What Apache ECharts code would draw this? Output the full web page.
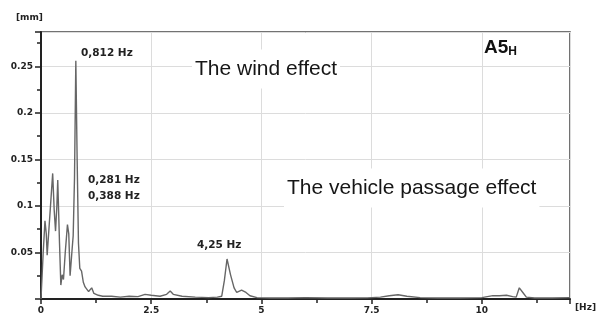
<!DOCTYPE html>
<html>
<head>
<meta charset="utf-8">
<script src="https://cdn.jsdelivr.net/npm/echarts@6/dist/echarts.min.js"></script>
<style>
html,body{margin:0;padding:0;background:#fff;}
#chart{width:599px;height:315px;}
</style>
</head>
<body>
<div id="chart"></div>
<script>
// Frequency (Hz)
var freqHz = [0, 0.05, 0.09, 0.12, 0.14, 0.18, 0.265, 0.30, 0.33, 0.36, 0.38, 0.42, 0.45, 0.48, 0.51, 0.55, 0.60, 0.63, 0.66, 0.70, 0.73, 0.76, 0.79, 0.82, 0.85, 0.88, 0.92, 0.96, 1.0, 1.08, 1.15, 1.2, 1.3, 1.4, 1.6, 1.8, 2.0, 2.2, 2.36, 2.5, 2.7, 2.85, 2.93, 3.0, 3.2, 3.5, 3.8, 4.0, 4.1, 4.16, 4.22, 4.3, 4.38, 4.44, 4.55, 4.65, 4.74, 4.9, 5.2, 5.6, 6.0, 6.5, 7.0, 7.4, 7.7, 7.9, 8.1, 8.3, 8.6, 9.0, 9.5, 10.0, 10.25, 10.4, 10.56, 10.7, 10.78, 10.85, 10.93, 11.01, 11.2, 11.6, 12];
// Amplitude (mm)
var amplitudeMm = [0, 0.05, 0.084, 0.07, 0.047, 0.048, 0.135, 0.095, 0.073, 0.1, 0.128, 0.06, 0.015, 0.026, 0.021, 0.05, 0.08, 0.07, 0.025, 0.05, 0.068, 0.13, 0.256, 0.15, 0.06, 0.033, 0.03, 0.018, 0.013, 0.008, 0.012, 0.006, 0.004, 0.003, 0.003, 0.002, 0.003, 0.0025, 0.005, 0.004, 0.003, 0.005, 0.0085, 0.005, 0.003, 0.002, 0.0015, 0.002, 0.003, 0.02, 0.043, 0.026, 0.012, 0.007, 0.0095, 0.007, 0.0035, 0.0015, 0.001, 0.001, 0.0015, 0.001, 0.001, 0.0012, 0.002, 0.0035, 0.0045, 0.003, 0.0015, 0.001, 0.001, 0.0015, 0.0036, 0.0035, 0.004, 0.0025, 0.002, 0.012, 0.007, 0.002, 0.001, 0.001, 0.0015];

var xAxisMax = 12, xInterval = 2.5;
var yAxisMax = 0.287, yInterval = 0.05;
var peakLabels = ['0,812 Hz', '0,281 Hz', '0,388 Hz', '4,25 Hz'];
var noteLabels = ['The wind effect', 'The vehicle passage effect'];
var unitX = '[Hz]', unitY = '[mm]';

var seriesData = freqHz.map(function (f, i) { return [f, amplitudeMm[i]]; });

var chart = echarts.init(document.getElementById('chart'), null, {renderer: 'canvas'});
var boldFont = 'DejaVu Sans';
var tickLabelStyle = {fontFamily: boldFont, fontWeight: 'bold', fontSize: 9, color: '#222'};

function xAxisDef(inside, labels) {
  return {
    type: 'value', min: 0, max: xAxisMax, interval: xInterval,
    axisLine: {show: labels, lineStyle: {color: '#222', width: 2}},
    axisTick: {show: true, inside: inside, length: 5, lineStyle: {color: '#222', width: 1.5}},
    minorTick: {show: true, splitNumber: 2, length: 4, lineStyle: {color: '#222', width: 1.5}},
    splitLine: {show: labels, lineStyle: {color: '#dcdcdc', width: 1}},
    axisLabel: {show: labels, showMaxLabel: false, margin: 7,
      formatter: function (v) { return String(v); }, ...tickLabelStyle}
  };
}
function yAxisDef(inside, labels) {
  return {
    type: 'value', min: 0, max: yAxisMax, interval: yInterval,
    axisLine: {show: labels, lineStyle: {color: '#222', width: 2}},
    axisTick: {show: true, inside: inside, length: 6, lineStyle: {color: '#222', width: 1.5}},
    minorTick: {show: true, splitNumber: 2, length: 4, lineStyle: {color: '#222', width: 1.5}},
    splitLine: {show: labels, lineStyle: {color: '#dcdcdc', width: 1}},
    axisLabel: {show: labels, showMaxLabel: false, margin: 8,
      formatter: function (v) { return v === 0 ? '' : String(v); }, ...tickLabelStyle}
  };
}

var annStyle = {fontFamily: boldFont, fontWeight: 'bold', fontSize: 10.5, fill: '#222'};
var noteStyle = {fontFamily: 'Liberation Sans', fontSize: 21, fill: '#161616', backgroundColor: '#ffffff', padding: [9, 3, 9, 3]};

chart.setOption({
  backgroundColor: '#ffffff',
  animation: false,
  grid: {left: 41, top: 32, right: 29, bottom: 14, show: true, borderColor: '#444', borderWidth: 1.5, backgroundColor: 'transparent'},
  xAxis: [xAxisDef(false, true), xAxisDef(true, false)],
  yAxis: [yAxisDef(false, true), yAxisDef(true, false)],
  series: [{
    type: 'line', data: seriesData, xAxisIndex: 0, yAxisIndex: 0,
    showSymbol: false, symbol: 'none',
    lineStyle: {color: '#666666', width: 1.4}
  }],
  graphic: [
    {type: 'text', left: 16, top: 13, style: {text: unitY, fontFamily: boldFont, fontWeight: 'bold', fontSize: 9, fill: '#222'}},
    {type: 'text', left: 575, top: 303, style: {text: unitX, fontFamily: boldFont, fontWeight: 'bold', fontSize: 9, fill: '#222'}},
    {type: 'text', x: 81, y: 53, style: Object.assign({text: peakLabels[0], verticalAlign: 'middle'}, annStyle)},
    {type: 'text', x: 88, y: 180, style: Object.assign({text: peakLabels[1], verticalAlign: 'middle'}, annStyle)},
    {type: 'text', x: 88, y: 196, style: Object.assign({text: peakLabels[2], verticalAlign: 'middle'}, annStyle)},
    {type: 'text', x: 197, y: 245, style: Object.assign({text: peakLabels[3], verticalAlign: 'middle'}, annStyle)},
    {type: 'text', x: 192, y: 69, z: 100, style: Object.assign({text: noteLabels[0], verticalAlign: 'middle'}, noteStyle)},
    {type: 'text', x: 284, y: 188, z: 100, style: Object.assign({text: noteLabels[1], verticalAlign: 'middle'}, noteStyle)},
    {type: 'text', x: 484, y: 48, style: {
      text: '{a|A5}{s|H}', verticalAlign: 'middle',
      rich: {
        a: {fontFamily: 'Liberation Sans', fontWeight: 'bold', fontSize: 19, fill: '#111', color: '#111'},
        s: {fontFamily: 'Liberation Sans', fontWeight: 'bold', fontSize: 12, fill: '#111', color: '#111', verticalAlign: 'bottom', padding: [8, 0, 0, 0]}
      }
    }}
  ]
});
</script>
</body>
</html>
